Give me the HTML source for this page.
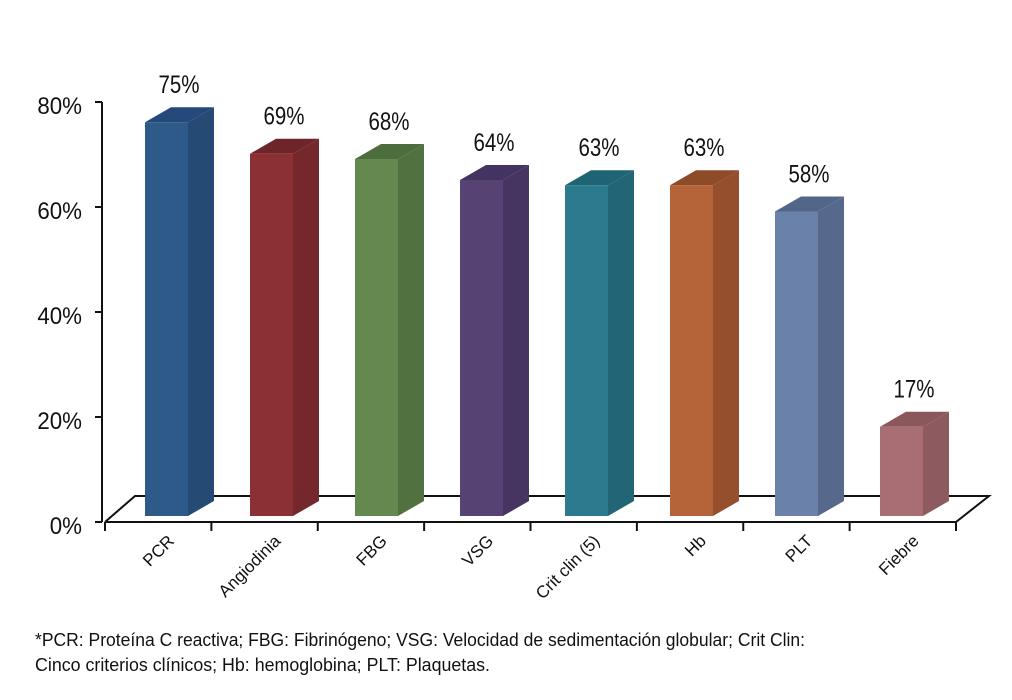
<!DOCTYPE html>
<html><head><meta charset="utf-8"><style>
body{margin:0;background:#fff;}
svg{display:block;font-family:"Liberation Sans",sans-serif;}
</style></head><body>
<svg id="chart" width="1012" height="700" viewBox="0 0 1012 700" xmlns="http://www.w3.org/2000/svg">
<g id="axes"></g>
<g id="bars"></g>
<g id="labels"></g>
<text x="35" y="646" font-size="18" fill="#111" textLength="770" lengthAdjust="spacingAndGlyphs">*PCR: Proteína C reactiva; FBG: Fibrinógeno; VSG: Velocidad de sedimentación globular; Crit Clin:</text>
<text x="35" y="671" font-size="18" fill="#111" textLength="455" lengthAdjust="spacingAndGlyphs">Cinco criterios clínicos; Hb: hemoglobina; PLT: Plaquetas.</text>
</svg>
<script>
const categories=["PCR","Angiodinia","FBG","VSG","Crit clin (5)","Hb","PLT","Fiebre"];
const values=[75,69,68,64,63,63,58,17];
const valueLabels=["75%","69%","68%","64%","63%","63%","58%","17%"];
const yTicks=[0,20,40,60,80];
const yTickLabels=["0%","20%","40%","60%","80%"];
const frontColors=["#2e5a8a","#8b3035","#64894f","#574274","#2b7a8e","#b5643a","#6a82aa","#a86e74"];
const sideColors=["#254a73","#74282c","#517140","#463560","#226576","#964f2c","#56698c","#8d5a60"];
const topColors=["#24497a","#6e2529","#4e6d3c","#433360","#1f6474","#8f4a28","#52668a","#8a575c"];
const NS="http://www.w3.org/2000/svg";
const axes=document.getElementById('axes'),bars=document.getElementById('bars'),labels=document.getElementById('labels');
const x0=105,x1=956,yAxisBase=522,yAxisTop=102,dx=33,dy=26;
const step=(x1-x0)/categories.length;
const barStep=105;
const yAxis=v=>yAxisBase-(v/80)*(yAxisBase-yAxisTop);
const barBase=516, scale=5.25;
const yBar=v=>barBase-v*scale;
const xCat=i=>x0+i*step;
const xBar=i=>145+i*barStep;
function mk(tag,attrs,parent){const e=document.createElementNS(NS,tag);for(const k in attrs)e.setAttribute(k,attrs[k]);parent.appendChild(e);return e;}
let f=mk('polyline',{points:`${x0},${yAxisBase} ${x0+30},${yAxisBase-dy} ${x1+dx},${yAxisBase-dy} ${x1},${yAxisBase} ${x0},${yAxisBase}`,fill:'none',stroke:'#111','stroke-width':2},axes);


let ya=mk('line',{x1:102,y1:yAxisTop,x2:102,y2:yAxisBase,stroke:'#111','stroke-width':2},axes);


yTicks.forEach((t,i)=>{const y=yAxis(t);
 let l=mk('line',{x1:95,y1:y,x2:102,y2:y,stroke:'#111','stroke-width':2},axes);
 
 
 let tx=mk('text',{x:82,y:y+12,'font-size':24,'text-anchor':'end',fill:'#111',transform:`translate(${82*0.07} 0) scale(0.93 1)`},axes);tx.textContent=yTickLabels[i];
 
 
});
for(let i=0;i<=categories.length;i++){const x=xCat(i);
 let l=mk('line',{x1:x,y1:yAxisBase,x2:x,y2:yAxisBase+9,stroke:'#111','stroke-width':2},axes);
 
 
}
const bw=43,sd=26,su=15;
values.forEach((v,i)=>{
 const xl=xBar(i),xr=xl+bw,yt=yBar(v);
 const g=mk('g',{},bars);
 
 
 mk('polygon',{points:`${xr},${yt} ${xr+sd},${yt-su} ${xr+sd},${barBase-su} ${xr},${barBase}`,fill:sideColors[i]},g);
 mk('polygon',{points:`${xl},${yt} ${xl+sd},${yt-su} ${xr+sd},${yt-su} ${xr},${yt}`,fill:topColors[i]},g);
 mk('rect',{x:xl,y:yt,width:bw,height:barBase-yt,fill:frontColors[i]},g);
 const vx=xl+34;
 let t=mk('text',{x:vx,y:yt-29,'font-size':25,'text-anchor':'middle',fill:'#111',transform:`translate(${vx*0.18} 0) scale(0.82 1)`},labels);t.textContent=valueLabels[i];
 
 
 const lx=xCat(i)+step/2+17,ly=542;
 let c=mk('text',{x:lx,y:ly,'font-size':17,'text-anchor':'end',fill:'#111',transform:`rotate(-45 ${lx} ${ly})`},labels);c.textContent=categories[i];
 
 
});
</script>
</body></html>
